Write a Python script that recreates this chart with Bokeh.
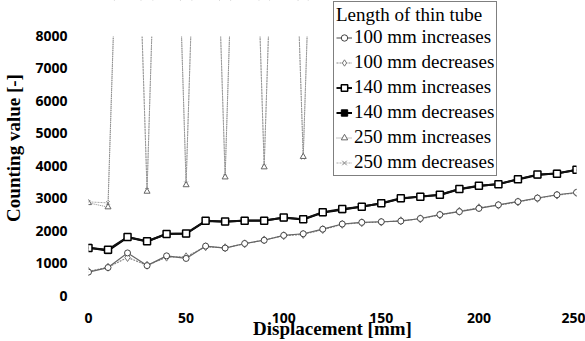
from bokeh.plotting import figure
from bokeh.models import Range1d, FixedTicker, Legend, LegendItem
from bokeh.embed import file_html
from bokeh.resources import INLINE

# ---- data ----
disp = [0, 10, 20, 30, 40, 50, 60, 70, 80, 90, 100, 110, 120, 130, 140, 150,
        160, 170, 180, 190, 200, 210, 220, 230, 240, 250]
inc_100 = [720, 860, 1310, 920, 1220, 1140, 1520, 1460, 1600, 1700, 1850, 1900, 2040,
           2200, 2250, 2270, 2290, 2370, 2490, 2580, 2680, 2790, 2890, 3000, 3100, 3170]
dec_100 = [740, 870, 1170, 930, 1180, 1190, 1500, 1470, 1590, 1710, 1840, 1880, 2030,
           2190, 2240, 2260, 2300, 2360, 2480, 2590, 2700, 2780, 2880, 2990, 3090, 3160]
inc_140 = [1460, 1410, 1800, 1670, 1890, 1910, 2300, 2280, 2300, 2300, 2400, 2350, 2560,
           2660, 2730, 2840, 2990, 3040, 3100, 3280, 3380, 3420, 3580, 3720, 3750, 3870]
dec_140 = [1480, 1380, 1790, 1660, 1900, 1900, 2290, 2270, 2310, 2310, 2390, 2340, 2550,
           2640, 2740, 2830, 2980, 3050, 3090, 3270, 3370, 3430, 3570, 3710, 3760, 3860]
disp_250 = [0, 10, 20, 30, 40, 50, 60, 70, 80, 90, 100, 110, 120]
inc_250 = [2850, 2720, 22000, 3200, 23000, 3400, 22500, 3640, 23000, 3950, 22500, 4270, 23000]
dec_250 = [2880, 2850, 22000, 3250, 23000, 3450, 22500, 3660, 23000, 3970, 22500, 4240, 23000]

x_ticks = [0, 50, 100, 150, 200, 250]
y_ticks = [0, 1000, 2000, 3000, 4000, 5000, 6000, 7000, 8000]
y_max = 8000
y_top = y_max * 295 / 260

# frame spans the full top so the legend (clipped to the frame) fits;
# values above y_max are masked so the axis visually stops at 8000
p = figure(width=585, height=341, output_backend="svg", toolbar_location=None,
           x_range=Range1d(0, 250), y_range=Range1d(0, y_top),
           min_border_left=88, min_border_right=9, min_border_top=0, min_border_bottom=46)
p.outline_line_color = None
p.grid.visible = False
p.background_fill_color = "white"
p.border_fill_color = "white"

for ax in (p.xaxis[0], p.yaxis[0]):
    ax.axis_line_color = None
    ax.major_tick_line_color = None
    ax.minor_tick_line_color = None
    ax.major_label_text_font = "Open Sans"
    ax.major_label_text_font_style = "bold"
    ax.major_label_text_font_size = "14px"
    ax.major_label_text_color = "black"
    ax.axis_label_text_font = "Liberation Serif"
    ax.axis_label_text_font_style = "bold"
    ax.axis_label_text_font_size = "19px"
    ax.axis_label_text_color = "black"

p.xaxis.ticker = FixedTicker(ticks=x_ticks)
p.yaxis.ticker = FixedTicker(ticks=y_ticks)
p.xaxis.axis_label = "Displacement [mm]"
p.yaxis.axis_label = "Counting value [-]"
p.xaxis.major_label_standoff = 11
p.xaxis.axis_label_standoff = -8
p.yaxis.major_label_standoff = 15
p.yaxis.axis_label_standoff = 8

# 250 mm
l250d = p.line(disp_250, dec_250, line_color="#aaaaaa", line_width=1, line_dash="2 1")
s250d = p.scatter(disp_250, dec_250, marker="x", size=5, line_color="#888888")
l250i = p.line(disp_250, inc_250, line_color="#888888", line_width=1, line_dash="1 1")
s250i = p.scatter(disp_250, inc_250, marker="triangle", size=6, line_color="#666666",
                  fill_color="white")
# 100 mm
l100d = p.line(disp, dec_100, line_color="#888888", line_width=1.2, line_dash="2 1")
s100d = p.scatter(disp, dec_100, marker="diamond", size=8, line_color="#777777",
                  fill_color="white")
l100i = p.line(disp, inc_100, line_color="#666666", line_width=1.2)
s100i = p.scatter(disp, inc_100, marker="circle", size=6, line_color="#444444",
                  fill_color="white")
# 140 mm
l140d = p.line(disp, dec_140, line_color="black", line_width=2)
s140d = p.scatter(disp, dec_140, marker="square", size=6, line_color="black",
                  fill_color="black")
l140i = p.line(disp, inc_140, line_color="#111111", line_width=2)
s140i = p.scatter(disp, inc_140, marker="square", size=7, line_color="black",
                  fill_color="white", line_width=1.5)

# white mask over everything above the 8000 axis end
p.quad(left=[-10], right=[260], bottom=[y_max], top=[y_top * 1.05],
       fill_color="white", fill_alpha=1.0, line_color="white", line_width=2)

items = [
    LegendItem(label="100 mm increases", renderers=[l100i, s100i]),
    LegendItem(label="100 mm decreases", renderers=[l100d, s100d]),
    LegendItem(label="140 mm increases", renderers=[l140i, s140i]),
    LegendItem(label="140 mm decreases", renderers=[l140d, s140d]),
    LegendItem(label="250 mm increases", renderers=[l250i, s250i]),
    LegendItem(label="250 mm decreases", renderers=[l250d, s250d]),
]
legend = Legend(items=items, location=(245, 119), title="Length of thin tube",
                title_text_font="Liberation Serif", title_text_font_size="19px",
                title_text_font_style="normal", title_text_color="black",
                label_text_font="Liberation Serif", label_text_font_size="19px",
                label_text_color="black", label_height=21, glyph_height=21,
                glyph_width=16, label_standoff=2, spacing=3, padding=2,
                title_standoff=-5, margin=0,
                border_line_color="black", border_line_width=1.5,
                background_fill_alpha=1.0)
p.add_layout(legend, "center")

open("out.html", "w").write(file_html(p, INLINE))
